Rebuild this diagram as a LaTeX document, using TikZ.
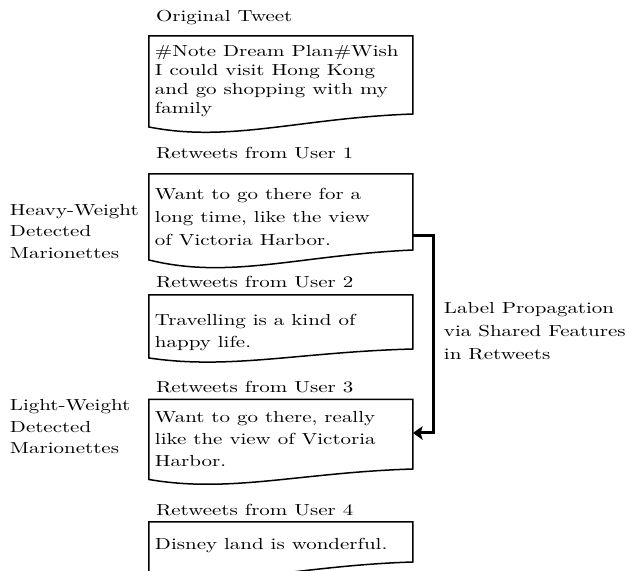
\documentclass[tikz,border=0pt]{standalone}
\usepackage{fontspec}
\setmainfont{lmroman10-regular.otf}[FakeStretch=1.31]
\usetikzlibrary{arrows.meta}
\newcommand\mylines[2]{{\fontsize{8}{#1}\selectfont\begin{tabular}[t]{@{}l@{}}#2\end{tabular}}}
% #1 top, #2 left bottom, #3 right bottom, #4 wave depth
\newcommand\docbox[4]{\draw[boxline] (149,#2) -- (149,#1) -- (413,#1) -- (413,#3)
  .. controls (300,#3+0.25*#4) and (230,#2+#4) .. (149,#2) -- cycle;}
\tikzset{
  boxline/.style={line width=0.75pt, line join=miter},
  txt/.style={anchor=base west, inner sep=0pt, outer sep=0pt, font=\fontsize{8}{9.4}\selectfont},
  proparrow/.style={line width=1.5pt, -{Stealth[length=4.8pt,width=6.8pt,inset=1pt]}}
}
\begin{document}
\begin{tikzpicture}[x=0.5pt, y=-0.5pt]
\useasboundingbox (0,0) rectangle (629,571);
\clip (0,0) rectangle (629,571);

% boxes
\docbox{36}{127}{114}{16}
\docbox{174}{260}{250}{20}
\docbox{295}{358}{349}{12}
\docbox{399.5}{479.5}{469}{14}
\docbox{522}{574}{562}{14}

% headings
\node[txt] (h0) at (156,22) {Original Tweet};
\node[txt] (h1) at (156,158.5) {Retweets from User 1};
\node[txt] (h2) at (156,287.5) {Retweets from User 2};
\node[txt] (h3) at (156,393) {Retweets from User 3};
\node[txt] (h4) at (156,516) {Retweets from User 4};

% tweet texts
\node[txt] (t0) at (155,57) {\mylines{9.4}{\#Note Dream Plan\#Wish\\I could visit Hong Kong\\and go shopping with my\\family}};
\node[txt] (t1) at (155,200) {\mylines{11.5}{Want to go there for a\\long time, like the view\\of Victoria Harbor.}};
\node[txt] (t2) at (155,326) {\mylines{10.75}{Travelling is a kind of\\happy life.}};
\node[txt] (t3) at (155,423) {\mylines{10.85}{Want to go there, really\\like the view of Victoria\\Harbor.}};
\node[txt] (t4) at (155,550) {Disney land is wonderful.};

% side labels
\node[txt] (heavy) at (10,215.5) {\mylines{10.65}{Heavy-Weight\\Detected\\Marionettes}};
\node[txt] (light) at (10,411) {\mylines{10.75}{Light-Weight\\Detected\\Marionettes}};
\node[txt] (prop) at (444,314) {\mylines{11.4}{Label Propagation\\via Shared Features\\in Retweets}};

% propagation arrow
\coordinate (u1out) at (413,236);
\coordinate (u3in) at (413,433);
\draw[proparrow] (u1out) -- ++(21,0) |- (u3in);
\end{tikzpicture}
\end{document}
